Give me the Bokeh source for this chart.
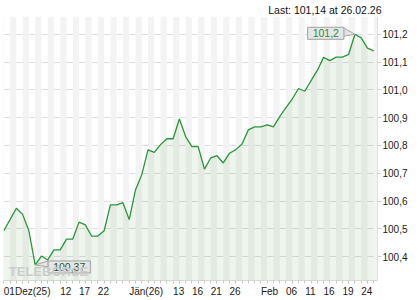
from bokeh.plotting import figure
from bokeh.models import Range1d, FixedTicker, CustomJSTickFormatter, Label
from bokeh.embed import file_html
from bokeh.resources import INLINE

# ---- data ----
values = [100.493, 100.533, 100.574, 100.552, 100.493, 100.370, 100.402, 100.388, 100.424, 100.424,
          100.463, 100.463, 100.524, 100.514, 100.474, 100.474, 100.493, 100.586, 100.586, 100.594,
          100.533, 100.640, 100.695, 100.784, 100.775, 100.803, 100.824, 100.824, 100.895, 100.832,
          100.796, 100.796, 100.715, 100.755, 100.763, 100.737, 100.772, 100.785, 100.805, 100.856,
          100.867, 100.867, 100.874, 100.867, 100.904, 100.936, 100.967, 101.005, 100.995, 101.033,
          101.070, 101.117, 101.105, 101.118, 101.118, 101.128, 101.200, 101.187, 101.150, 101.140]
tick_idx = [0, 9, 12, 15, 20, 27, 30, 33, 36, 41, 45, 48, 51, 54, 57]
tick_labels = ["01Dez(25)", "12", "17", "22", "Jän(26)", "13", "16", "21", "26",
               "Feb", "06", "11", "16", "19", "24"]
y_ticks = [100.4, 100.5, 100.6, 100.7, 100.8, 100.9, 101.0, 101.1, 101.2]
last_value = 101.14
last_date = "26.02.26"

FONT = "Liberation Sans"
idx = list(range(len(values)))
x0, x1 = -0.05, 59.6
y0, y1 = 100.314, 101.264
FW, FH = 374, 266

p = figure(width=420, height=300, x_range=Range1d(x0, x1), y_range=Range1d(y0, y1),
           y_axis_location="right", output_backend="svg", toolbar_location=None,
           min_border_left=3, min_border_right=43, min_border_top=14, min_border_bottom=20,
           title="Last: %s at %s" % (("%.2f" % last_value).replace(".", ","), last_date))
p.outline_line_color = None
p.background_fill_color = "white"
p.border_fill_color = "white"

p.title.align = "right"
p.title.text_font = FONT
p.title.text_font_size = "10.5px"
p.title.text_font_style = "normal"
p.title.text_color = "#111111"
p.title.standoff = 2
p.title.offset = -4

# background stripes (one per trading day)
stripe_left = [i for i in range(-1, len(values) + 1) if i % 2 != 0]
p.quad(left=stripe_left, right=[s + 1 for s in stripe_left], bottom=y0, top=y1,
       fill_color="#f3f3f3", line_color=None)

# area and line
p.varea(x=idx, y1=y0, y2=values, fill_color="#4f9a4a", fill_alpha=0.10)
p.line(idx, values, line_color="#2a963a", line_width=1.3)

# pointers + labels for max / min
px = (x1 - x0) / FW
py = (y1 - y0) / FH
i_max = max(idx, key=lambda i: values[i])
i_min = min(idx, key=lambda i: values[i])
vmax, vmin = values[i_max], values[i_min]

def fmt(v):
    return ("%.2f" % v).rstrip("0").rstrip(".").replace(".", ",")

p.patch([i_max, i_max - 12 * px, i_max - 12 * px],
        [vmax, vmax + 7 * py, vmax - 2 * py],
        fill_color="#e4e4e4", line_color="#a8a8a8", line_width=1)
p.patch([i_min, i_min + 13 * px, i_min + 13 * px],
        [vmin, vmin + 4 * py, vmin - 2 * py],
        fill_color="#e4e4e4", line_color="#a8a8a8", line_width=1)

lab_max = Label(x=i_max, y=vmax, x_offset=-11, y_offset=1, text=fmt(vmax),
                text_align="right", text_baseline="middle", text_font=FONT,
                text_font_size="10.5px", text_color="#2b8a3e",
                background_fill_color="#e6e6e6", border_line_color="#a0a0a0",
                padding=dict(left=5, right=5, top=2, bottom=2))
lab_min = Label(x=i_min, y=vmin, x_offset=13, y_offset=-2, text=fmt(vmin),
                text_align="left", text_baseline="middle", text_font=FONT,
                text_font_size="10.5px", text_color="#27572f",
                background_fill_color="#e6e6e6", border_line_color="#a0a0a0",
                padding=dict(left=5, right=5, top=2, bottom=2))
p.add_layout(lab_max)
p.add_layout(lab_min)

wm = Label(x=0, y=y0, x_offset=5, y_offset=2, text="TELEBÖRSE", text_align="left",
           text_baseline="bottom", text_font=FONT, text_font_size="13px",
           text_font_style="bold", text_color="#cccccc")
p.add_layout(wm)

# x axis: labels start at their day (left-aligned), so the label anchor is shifted
# by half the label's width (Arial/Liberation metrics, 10px)
CW = {"D": 7.22, "F": 6.11, "J": 5.0, "z": 5.0, "(": 3.33, ")": 3.33}
def text_w(s, size=10.0):
    return sum(CW.get(c, 5.56) for c in s) * size / 10.0
label_pos = [t + text_w(s) / 2.0 * px for t, s in zip(tick_idx, tick_labels)]

xa = p.xaxis[0]
xa.ticker = FixedTicker(ticks=label_pos, minor_ticks=idx)
xa.formatter = CustomJSTickFormatter(args=dict(lpos=label_pos, ltxt=tick_labels), code="""
let best = 0, bd = 1e9;
for (let i = 0; i < lpos.length; i++) {
  const d = Math.abs(lpos[i] - tick);
  if (d < bd) { bd = d; best = i; }
}
return ltxt[best];
""")
xa.major_tick_in = 0
xa.major_tick_out = 3
xa.minor_tick_in = 0
xa.minor_tick_out = 3
xa.major_tick_line_color = None
xa.minor_tick_line_color = "#c8c8c8"
xa.axis_line_color = "#d8d8d8"
xa.major_label_standoff = 2
xa.major_label_text_font = FONT
xa.major_label_text_font_size = "10px"
xa.major_label_text_color = "#1a1a1a"

ya = p.yaxis[0]
ya.ticker = FixedTicker(ticks=y_ticks, minor_ticks=[])
ya.formatter = CustomJSTickFormatter(code="return tick.toFixed(1).replace('.', ',');")
ya.major_tick_in = 0
ya.major_tick_out = 4
ya.major_tick_line_color = "#d0d0d0"
ya.axis_line_color = "#e0e0e0"
ya.major_label_standoff = 1
ya.major_label_text_font = FONT
ya.major_label_text_font_size = "10px"
ya.major_label_text_color = "#1a1a1a"

p.xgrid.visible = False
p.ygrid.ticker = FixedTicker(ticks=y_ticks, minor_ticks=[])
p.ygrid.grid_line_color = "#dddddd"

open("out.html", "w").write(file_html(p, INLINE))
